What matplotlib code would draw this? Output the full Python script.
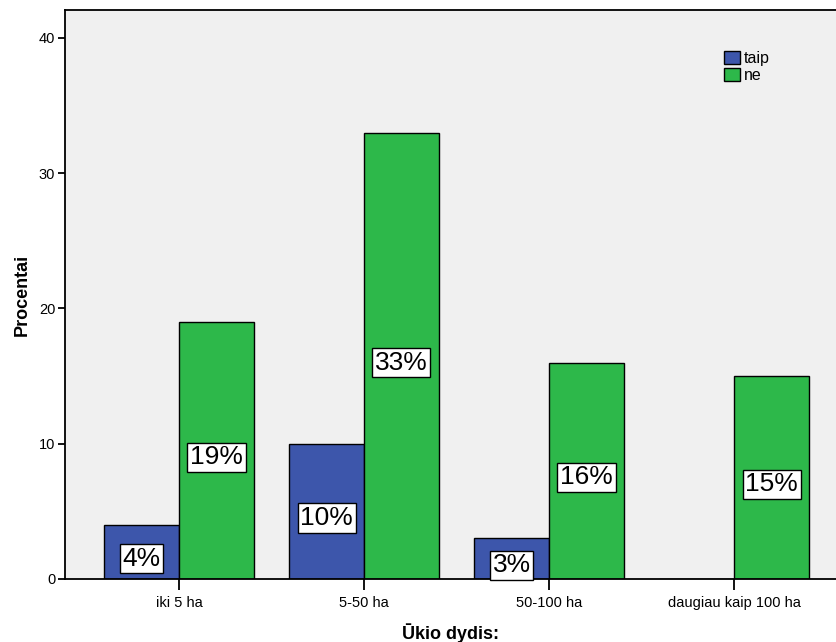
import matplotlib
matplotlib.use("Agg")
import matplotlib.pyplot as plt
import numpy as np

plt.rcParams['font.family'] = ['Liberation Sans', 'DejaVu Sans']

# data
categories = ["iki 5 ha", "5-50 ha", "50-100 ha", "daugiau kaip 100 ha"]
taip = [4, 10, 3, 0]
ne = [19, 33, 16, 15]
series_names = ["taip", "ne"]
colors = ["#3d56ab", "#2db84a"]

fig = plt.figure(figsize=(8.36, 6.42), dpi=100)
ax = fig.add_axes([65 / 836, 63 / 642, 1 - 65 / 836, (579 - 10) / 642])
ax.set_facecolor("#f0f0f0")

x = np.arange(len(categories))
w = 0.405
for i, (vals, name, col) in enumerate(zip([taip, ne], series_names, colors)):
    pos = x + (i - 0.5) * w
    bars = ax.bar(pos, vals, width=w, color=col, edgecolor="black", linewidth=1, label=name)
    for p, v in zip(pos, vals):
        if v > 0:
            ax.annotate("%d%%" % v, (p, v / 2), xytext=(0, -3), textcoords="offset points",
                        ha="center", va="center_baseline", fontsize=19,
                        bbox=dict(boxstyle="square,pad=0.1", fc="white", ec="black", lw=1))

ax.set_xlim(-0.616, 3.551)
ax.set_ylim(0, 42.07)
ax.set_yticks([0, 10, 20, 30, 40])
ax.set_xticks(x)
ax.set_xticklabels(categories, fontsize=10.5)
ax.tick_params(axis="y", labelsize=10.5, length=5, width=1.3, pad=2)
ax.tick_params(axis="x", length=8, width=1.3, pad=4)
for s in ["left", "bottom", "top"]:
    ax.spines[s].set_linewidth(1.3)
ax.spines["right"].set_visible(False)

ax.set_ylabel("Procentai", fontsize=13, fontweight="bold", labelpad=6)
ax.set_xlabel("Ūkio dydis:", fontsize=13, fontweight="bold", labelpad=10)

leg = ax.legend(loc="upper left", bbox_to_anchor=(0.847, 0.94), frameon=False, fontsize=11.5,
                handlelength=0.95, handleheight=0.95, handletextpad=0.25, labelspacing=0.1,
                borderaxespad=0)

fig.savefig("out.png", dpi=100)
